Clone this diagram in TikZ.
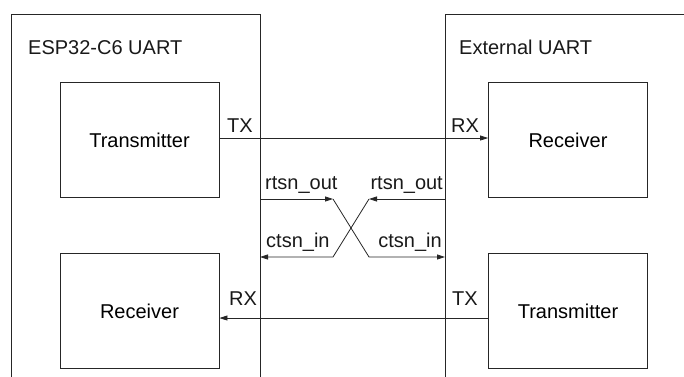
\documentclass[tikz,border=0pt]{standalone}
\usepackage{fontspec}
\setmainfont{Liberation Sans}
\usetikzlibrary{arrows.meta}
\begin{document}
\begin{tikzpicture}[x=1pt,y=-1pt,
  line/.style={draw=black!85,line width=0.8pt},
  blk/.style={line,rectangle,minimum width=159pt,minimum height=115pt,inner sep=0pt,font=\fontsize{20}{24}\selectfont},
  lbl/.style={inner sep=0pt,font=\fontsize{20}{24}\selectfont,text=black!90},
  sig/.style={line,-{Triangle[length=8pt,width=5pt]}}]
\useasboundingbox (0,0) rectangle (684,376);
\clip (0,0) rectangle (684,376);
% outer boxes
\node[line,rectangle,inner sep=0pt,anchor=north west,minimum width=249pt,minimum height=420pt] (esp) at (11,14) {};
\node[line,rectangle,inner sep=0pt,anchor=north west,minimum width=300pt,minimum height=420pt] (ext) at (445,14) {};
\node[lbl,anchor=base west] (espt) at (28,54) {ESP32-C6 UART};
\node[lbl,anchor=base west] (extt) at (459,54) {External UART};
% inner blocks
\node[blk] (tx1) at (139.5,140) {Transmitter};
\node[blk] (rx1) at (139.5,311) {Receiver};
\node[blk] (rx2) at (568,140) {Receiver};
\node[blk] (tx2) at (568,311) {Transmitter};
% TX/RX
\draw[sig] (tx1.east |- 0,138) -- (rx2.west |- 0,138);
\draw[sig] (tx2.west |- 0,318) -- (rx1.east |- 0,318);
\node[lbl,anchor=base west] (ltx) at (227,132) {TX};
\node[lbl,anchor=base west] (rrx) at (451,132) {RX};
\node[lbl,anchor=base west] (lrx) at (229,305) {RX};
\node[lbl,anchor=base west] (rtx) at (452,305) {TX};
% flow control crossing
\coordinate (la) at (260,199);
\coordinate (lb) at (260,257);
\coordinate (ra) at (445,199);
\coordinate (rb) at (445,257);
\coordinate (xa) at (333,199);
\coordinate (xb) at (369,199);
\coordinate (xc) at (333,257);
\coordinate (xd) at (369,257);
\draw[sig] (la) -- (xa);
\draw[sig] (xa) -- (xd) -- (rb);
\draw[sig] (ra) -- (xb);
\draw[sig] (xb) -- (xc) -- (lb);
\node[lbl,anchor=base west] (lrts) at (265,189) {rtsn\_out};
\node[lbl,anchor=base east] (rrts) at (443,189) {rtsn\_out};
\node[lbl,anchor=base west] (lcts) at (266,247) {ctsn\_in};
\node[lbl,anchor=base east] (rcts) at (442,247) {ctsn\_in};
\end{tikzpicture}
\end{document}
